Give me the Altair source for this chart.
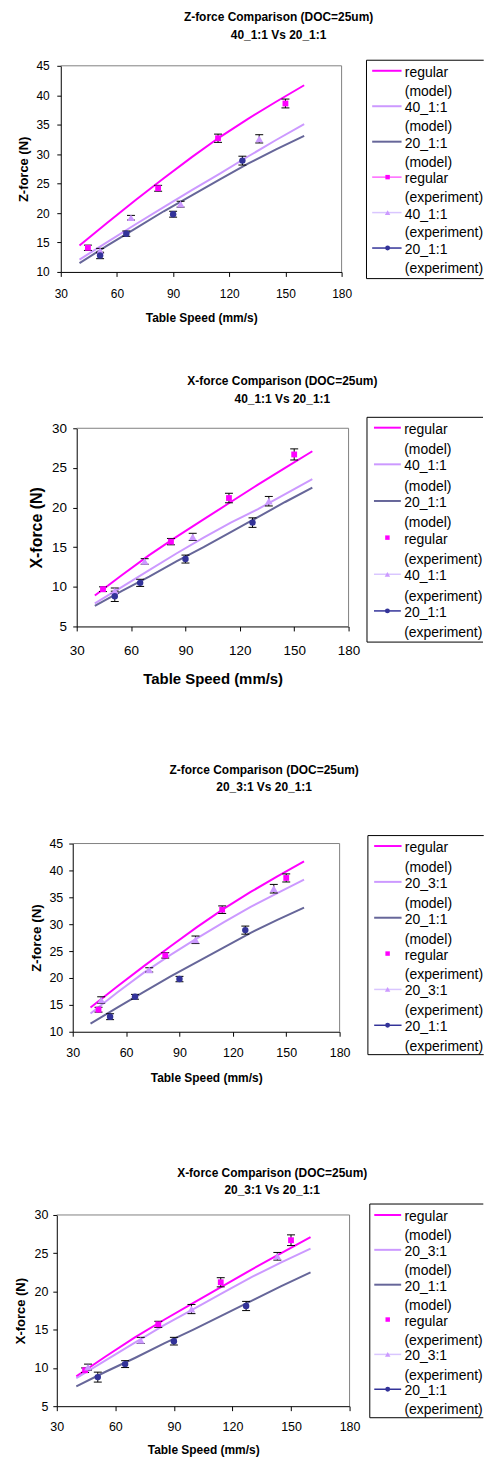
import altair as alt
import pandas as pd

FONT = "Liberation Sans"

# ------------------------------------------------------------------ data
speed_ticks = [30, 60, 90, 120, 150, 180]
z_ticks = [10, 15, 20, 25, 30, 35, 40, 45]
x_ticks = [5, 10, 15, 20, 25, 30]

model_speed = [40, 55, 70, 85, 100, 115, 130, 145, 160]

# model curves, Z-force (N)
z_model_regular = [14.5, 18.4, 22.2, 25.9, 29.5, 32.9, 36.0, 38.9, 41.7]
z_model_40_1 = [12.1, 15.1, 18.1, 21.0, 23.9, 26.7, 29.6, 32.4, 35.1]
z_model_20_1 = [11.5, 14.5, 17.4, 20.3, 23.0, 25.7, 28.4, 30.8, 33.1]
z_model_20_3 = [13.4, 17.3, 21.0, 24.3, 27.4, 30.4, 33.2, 35.8, 38.3]
# model curves, X-force (N)
x_model_regular = [8.9, 11.5, 14.0, 16.3, 18.5, 20.7, 22.9, 25.0, 27.1]
x_model_40_1 = [7.9, 10.0, 12.1, 14.2, 16.2, 18.1, 19.8, 21.7, 23.6]
x_model_20_1 = [7.6, 9.5, 11.3, 13.2, 15.0, 16.9, 18.8, 20.7, 22.5]
x_model_20_3 = [8.65, 11.0, 13.3, 15.6, 17.7, 19.8, 21.9, 23.8, 25.6]

# experiment table speeds (mm/s)
exp_speed_regular = [44.5, 82, 114, 150]
exp_speed_40_1 = [51, 67.5, 94, 136]
exp_speed_20_1 = [51, 65, 90, 127]
exp_speed_20_3 = [46, 73, 99, 143]

# experiment Z-force (N) and error half-range
z_exp_regular = [14.1, 24.2, 32.7, 38.6]
z_err_regular = [0.45, 0.5, 0.7, 0.75]
z_exp_40_1 = [13.6, 19.2, 21.5, 32.6]
z_err_40_1 = [0.4, 0.4, 0.5, 0.7]
z_exp_20_1 = [12.8, 16.5, 19.8, 28.9]
z_err_20_1 = [0.55, 0.45, 0.5, 0.75]
z_exp_20_3 = [15.9, 21.5, 27.1, 36.6]
z_err_20_3 = [0.6, 0.4, 0.7, 0.8]
# experiment X-force (N) and error half-range
x_exp_regular = [9.7, 15.7, 21.2, 26.7]
x_err_regular = [0.3, 0.4, 0.6, 0.7]
x_exp_40_1 = [9.5, 13.2, 16.3, 20.8]
x_err_40_1 = [0.35, 0.35, 0.45, 0.6]
x_exp_20_1 = [8.8, 10.5, 13.5, 18.1]
x_err_20_1 = [0.65, 0.45, 0.5, 0.6]
x_exp_20_3 = [10.1, 13.6, 17.7, 24.6]
x_err_20_3 = [0.4, 0.4, 0.6, 0.5]

# ------------------------------------------------------------------ styles
MAGENTA = "#FF00FF"
LAVENDER = "#CC99FF"
SLATE = "#666699"
NAVY = "#333399"
PINK_LINE = "#FF66FF"
LAV_LINE = "#D9C6FF"

SHAPES = {"regular": ("square", MAGENTA, 34),
          "40_1:1": ("triangle-up", LAVENDER, 60),
          "20_3:1": ("triangle-up", LAVENDER, 60),
          "20_1:1": ("circle", NAVY, 42)}
LEG_SIZE = {"square": 20, "triangle-up": 30, "circle": 24}

PAGE_L, PAGE_R = 8, 485          # drawable page columns (svg must stay 477 px wide)


def legend_entries(second, reg_line):
    return [
        ("regular", "(model)", MAGENTA, 2, None, None),
        (second, "(model)", LAVENDER, 2, None, None),
        ("20_1:1", "(model)", SLATE, 2, None, None),
        ("regular", "(experiment)", PINK_LINE if reg_line else None, 1.5, "square", MAGENTA),
        (second, "(experiment)", LAV_LINE, 1.5, "triangle-up", LAVENDER),
        ("20_1:1", "(experiment)", NAVY, 1.5, "circle", NAVY),
    ]


panels = [
    dict(origin=(60.3, 62.3), size=(282, 207), band=(8, 340),
         yticks=z_ticks, ytitle="Z-force (N)",
         tick_fs=12, xt_fs=12, yt_fs=13,
         xlab_pad=12, xt_pad=40.3, ylab_pad=7.6, yt_pad=30.65,
         title=["Z-force Comparison (DOC=25um)", "40_1:1 Vs 20_1:1"],
         title_cx=279, title_y=[13.5, 31.0],
         models=[(z_model_regular, MAGENTA), (z_model_40_1, LAVENDER), (z_model_20_1, SLATE)],
         exps=[("regular", exp_speed_regular, z_exp_regular, z_err_regular),
               ("40_1:1", exp_speed_40_1, z_exp_40_1, z_err_40_1),
               ("20_1:1", exp_speed_20_1, z_exp_20_1, z_err_20_1)],
         legend=dict(box=(367.3, 56.7, 276.0), first=12.6, step=35.6, gap=19.0,
                     line=(373.0, 402.5), marker=388.5, text=405.8),
         entries=legend_entries("40_1:1", True)),
    dict(origin=(77, 425.3), size=(273, 199), band=(340, 730),
         yticks=x_ticks, ytitle="X-force (N)",
         tick_fs=13.5, xt_fs=15, yt_fs=16,
         xlab_pad=12.3, xt_pad=44.8, ylab_pad=6.3, yt_pad=32.3,
         title=["X-force Comparison (DOC=25um)", "40_1:1 Vs 20_1:1"],
         title_cx=283.5, title_y=[378.3, 396.0],
         models=[(x_model_regular, MAGENTA), (x_model_40_1, LAVENDER), (x_model_20_1, SLATE)],
         exps=[("regular", exp_speed_regular, x_exp_regular, x_err_regular),
               ("40_1:1", exp_speed_40_1, x_exp_40_1, x_err_40_1),
               ("20_1:1", exp_speed_20_1, x_exp_20_1, x_err_20_1)],
         legend=dict(box=(368.5, 414.3, 640.0), first=12.4, step=36.8, gap=20.5,
                     line=(375.5, 402.5), marker=389.0, text=405.8),
         entries=legend_entries("40_1:1", False)),
    dict(origin=(72.3, 841.3), size=(268, 189), band=(730, 1110),
         yticks=z_ticks, ytitle="Z-force (N)",
         tick_fs=12.5, xt_fs=12, yt_fs=13.5,
         xlab_pad=10, xt_pad=40.6, ylab_pad=6, yt_pad=29.0,
         title=["Z-force Comparison (DOC=25um)", "20_3:1 Vs 20_1:1"],
         title_cx=264.5, title_y=[767.0, 785.0],
         models=[(z_model_regular, MAGENTA), (z_model_20_3, LAVENDER), (z_model_20_1, SLATE)],
         exps=[("regular", exp_speed_regular, z_exp_regular, z_err_regular),
               ("20_3:1", exp_speed_20_3, z_exp_20_3, z_err_20_3),
               ("20_1:1", exp_speed_20_1, z_exp_20_1, z_err_20_1)],
         legend=dict(box=(368.7, 833.3, 1053.3), first=12.5, step=36.0, gap=20.0,
                     line=(375.0, 402.5), marker=388.5, text=405.8),
         entries=legend_entries("20_3:1", False)),
    dict(origin=(56.7, 1213.7), size=(294, 192), band=(1110, 1450),
         yticks=x_ticks, ytitle="X-force (N)",
         tick_fs=12.5, xt_fs=12, yt_fs=13,
         xlab_pad=10, xt_pad=38.9, ylab_pad=5, yt_pad=29.05,
         title=["X-force Comparison (DOC=25um)", "20_3:1 Vs 20_1:1"],
         title_cx=273, title_y=[1171.7, 1188.7],
         models=[(x_model_regular, MAGENTA), (x_model_20_3, LAVENDER), (x_model_20_1, SLATE)],
         exps=[("regular", exp_speed_regular, x_exp_regular, x_err_regular),
               ("20_3:1", exp_speed_20_3, x_exp_20_3, x_err_20_3),
               ("20_1:1", exp_speed_20_1, x_exp_20_1, x_err_20_1)],
         legend=dict(box=(371.0, 1202.7, 1417.3), first=13.0, step=35.0, gap=19.3,
                     line=(375.5, 402.5), marker=389.0, text=405.8),
         entries=legend_entries("20_3:1", False)),
]

ONE = pd.DataFrame({"k": [0]})
LEG_FS = 14


def build_panel(p):
    ox, oy = p["origin"]
    W, H = p["size"]
    L, R = PAGE_L + 1 - ox, PAGE_R - ox
    T, B = p["band"][0] - oy, p["band"][1] - oy

    xs = alt.Scale(domain=[30, 180], nice=False, zero=False)
    ys = alt.Scale(domain=[p["yticks"][0], p["yticks"][-1]], nice=False, zero=False)
    xax = alt.Axis(values=speed_ticks, title="Table Speed (mm/s)", format="d",
                   labelFontSize=p["tick_fs"], titleFontSize=p["xt_fs"], titleFontWeight="bold",
                   labelPadding=p["xlab_pad"], titlePadding=p["xt_pad"], tickSize=4.5,
                   minExtent=0, maxExtent=0, labelFlush=False, labelOverlap=False,
                   titleBaseline="top")
    yax = alt.Axis(values=p["yticks"], title=p["ytitle"], format="d",
                   labelFontSize=p["tick_fs"], titleFontSize=p["yt_fs"], titleFontWeight="bold",
                   labelPadding=p["ylab_pad"], titlePadding=p["yt_pad"], tickSize=4,
                   minExtent=0, maxExtent=0, labelFlush=False, labelOverlap=False,
                   titleBaseline="bottom")

    def X(f="speed"):
        return alt.X(f"{f}:Q", scale=xs, axis=xax)

    def Y(f="force"):
        return alt.Y(f"{f}:Q", scale=ys, axis=yax)

    layers = []
    # plot-area frame (top and right, grey)
    layers.append(alt.Chart(ONE).mark_rule(color="#808080", strokeWidth=1).encode(
        x=alt.value(0), x2=alt.value(W), y=alt.value(0)))
    layers.append(alt.Chart(ONE).mark_rule(color="#808080", strokeWidth=1).encode(
        x=alt.value(W), y=alt.value(0), y2=alt.value(H)))

    # model lines
    for vals, color in p["models"]:
        df = pd.DataFrame({"speed": model_speed, "force": vals})
        layers.append(alt.Chart(df).mark_line(color=color, strokeWidth=2).encode(x=X(), y=Y()))

    # experiments with error bars
    for name, sp, vals, errs in p["exps"]:
        df = pd.DataFrame({"speed": sp, "force": vals,
                           "lo": [v - e for v, e in zip(vals, errs)],
                           "hi": [v + e for v, e in zip(vals, errs)]})
        layers.append(alt.Chart(df).mark_rule(color="black", strokeWidth=1).encode(
            x=X(), y=Y("lo"), y2=alt.Y2("hi:Q")))
        for end in ("lo", "hi"):
            layers.append(alt.Chart(df).mark_rule(color="black", strokeWidth=1,
                                                  xOffset=-4, x2Offset=4).encode(
                x=X(), x2=alt.X2("speed:Q"), y=Y(end)))
    for name, sp, vals, errs in p["exps"]:
        shape, color, size = SHAPES[name]
        df = pd.DataFrame({"speed": sp, "force": vals})
        layers.append(alt.Chart(df).mark_point(shape=shape, filled=True, color=color,
                                               size=size, opacity=1).encode(x=X(), y=Y()))

    # chart title (two lines)
    tdf = pd.DataFrame({"t": p["title"], "ty": [v - oy for v in p["title_y"]]})
    layers.append(alt.Chart(tdf).mark_text(font=FONT, fontSize=12, fontWeight="bold",
                                           align="center", baseline="middle", color="black").encode(
        x=alt.value(p["title_cx"] - ox), y=alt.Y("ty:Q", scale=None, axis=None), text="t:N"))

    # legend box (its right side runs off the page, as in the original)
    lg = p["legend"]
    bl, bt, bb = lg["box"][0] - ox, lg["box"][1] - oy, lg["box"][2] - oy
    layers.append(alt.Chart(ONE).mark_rule(color="black", strokeWidth=1).encode(
        x=alt.value(bl), x2=alt.value(R), y=alt.value(bt)))
    layers.append(alt.Chart(ONE).mark_rule(color="black", strokeWidth=1).encode(
        x=alt.value(bl), x2=alt.value(R), y=alt.value(bb)))
    layers.append(alt.Chart(ONE).mark_rule(color="black", strokeWidth=1).encode(
        x=alt.value(bl), y=alt.value(bt), y2=alt.value(bb)))

    rows = []
    for i, (l1, l2, lcol, lw, shape, mcol) in enumerate(p["entries"]):
        ty1 = bt + lg["first"] + i * lg["step"]
        rows.append(dict(l1=l1, l2=l2, ty1=ty1, ty2=ty1 + lg["gap"], sy=ty1 - 2,
                         lcolor=lcol or "", lw=lw, shape=shape or "",
                         mcolor=mcol or "", msize=LEG_SIZE.get(shape, 0)))
    ldf = pd.DataFrame(rows)
    line_df = ldf[ldf["lcolor"] != ""]
    mark_df = ldf[ldf["shape"] != ""]
    SY = alt.Y("sy:Q", scale=None, axis=None)
    layers.append(alt.Chart(line_df).mark_rule().encode(
        x=alt.value(lg["line"][0] - ox), x2=alt.value(lg["line"][1] - ox), y=SY,
        color=alt.Color("lcolor:N", scale=None, legend=None),
        strokeWidth=alt.StrokeWidth("lw:Q", scale=None, legend=None)))
    layers.append(alt.Chart(mark_df).mark_point(filled=True, opacity=1).encode(
        x=alt.value(lg["marker"] - ox), y=SY,
        shape=alt.Shape("shape:N", scale=None, legend=None),
        color=alt.Color("mcolor:N", scale=None, legend=None),
        size=alt.Size("msize:Q", scale=None, legend=None)))
    for fld, yfld in (("l1", "ty1"), ("l2", "ty2")):
        layers.append(alt.Chart(ldf).mark_text(font=FONT, fontSize=LEG_FS, align="left",
                                               baseline="middle", color="black").encode(
            x=alt.value(lg["text"] - ox), y=alt.Y(f"{yfld}:Q", scale=None, axis=None),
            text=f"{fld}:N"))

    # invisible layout anchors fixing this panel's band on the page
    layers.append(alt.Chart(ONE).mark_rule(opacity=0, strokeWidth=0).encode(
        x=alt.value(L), x2=alt.value(R), y=alt.value(T)))
    layers.append(alt.Chart(ONE).mark_rule(opacity=0, strokeWidth=0).encode(
        x=alt.value(L), y=alt.value(T), y2=alt.value(B)))

    panel = alt.layer(*layers).properties(width=W, height=H)
    # a 1-px spacer starts every row at the page's left edge
    spacer = alt.Chart(ONE).mark_rule(opacity=0, strokeWidth=0).encode(
        x=alt.value(0), x2=alt.value(1), y=alt.value(0)).properties(width=1, height=1)
    return alt.hconcat(spacer, panel, spacing=0)


chart = alt.vconcat(*[build_panel(p) for p in panels], spacing=0).properties(
    padding=0, background="white"
).configure_view(stroke=None).configure_axis(
    grid=False, domainColor="black", tickColor="black", labelColor="black",
    titleColor="black", labelFont=FONT, titleFont=FONT, domainWidth=1, tickWidth=1
)

chart.save("out.html", embed_options={"renderer": "svg", "actions": False})
